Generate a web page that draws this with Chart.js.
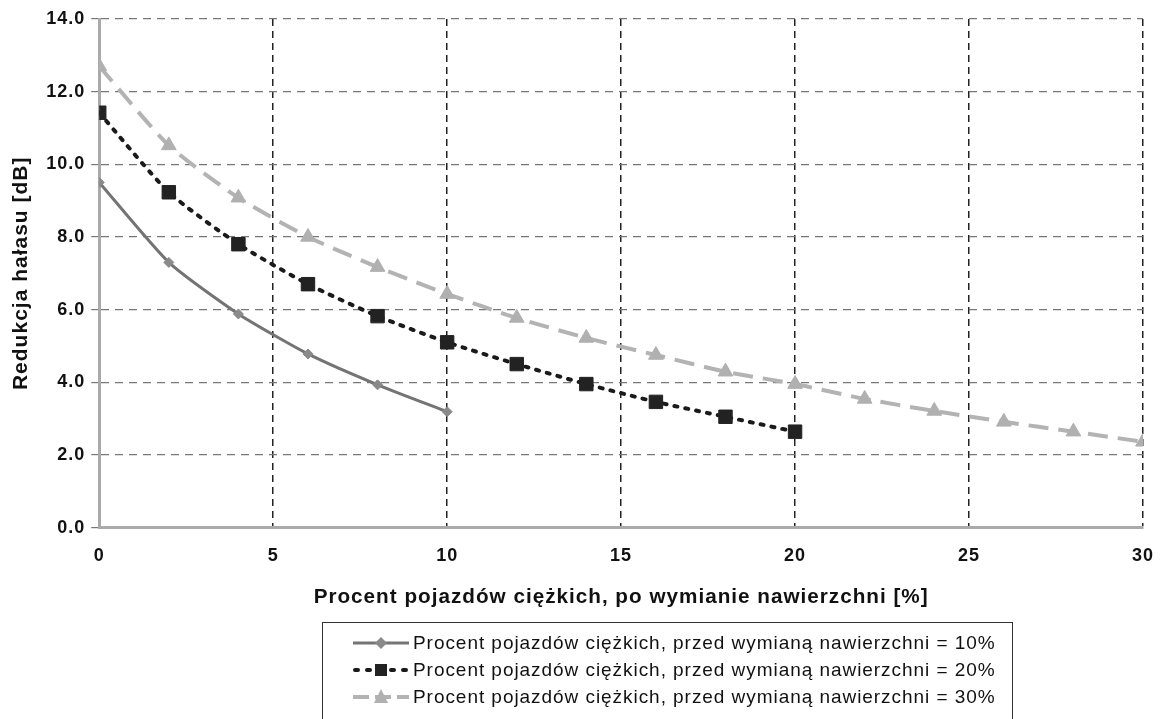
<!DOCTYPE html>
<html>
<head>
<meta charset="utf-8">
<script src="https://cdn.jsdelivr.net/npm/chart.js@4.4.0/dist/chart.umd.min.js"></script>
<style>
  html, body { margin: 0; padding: 0; background: #fff; }
  #wrap { position: relative; width: 1160px; height: 719px; }
  #legend {
    position: absolute; left: 322px; top: 622px; width: 691px; height: 110px;
    border: 1.5px solid #333; box-sizing: border-box;
    font-family: "Liberation Sans", Arial, sans-serif; font-size: 19px; color: #111;
    letter-spacing: 0.95px;
  }
  .row { position: absolute; left: 28px; height: 26px; display: flex; align-items: center; white-space: nowrap; }
  .row canvas { width: 60px; height: 20px; margin-right: 2px; }
</style>
</head>
<body>
<div id="wrap">
  <canvas id="noiseChart" width="1160" height="719"></canvas>
  <div id="legend"></div>
</div>
<script>
// procent pojazdów ciężkich po wymianie (oś X)
const xs10 = [0, 2, 4, 6, 8, 10];
const xs20 = [0, 2, 4, 6, 8, 10, 12, 14, 16, 18, 20];
const xs30 = [0, 2, 4, 6, 8, 10, 12, 14, 16, 18, 20, 22, 24, 26, 28, 30];

// redukcja hałasu [dB]
const red10 = [9.5, 7.3, 5.88, 4.78, 3.93, 3.19];
const red20 = [11.42, 9.23, 7.8, 6.7, 5.82, 5.1, 4.5, 3.95, 3.46, 3.05, 2.64];
const red30 = [12.7, 10.52, 9.08, 8.0, 7.17, 6.43, 5.77, 5.22, 4.75, 4.29, 3.95, 3.54, 3.21, 2.91, 2.64, 2.36];

const seriesLabels = [
    'Procent pojazdów ciężkich, przed wymianą nawierzchni = 10%',
    'Procent pojazdów ciężkich, przed wymianą nawierzchni = 20%',
    'Procent pojazdów ciężkich, przed wymianą nawierzchni = 30%'
];

const xTitle = 'Procent pojazdów ciężkich, po wymianie nawierzchni [%]';
const yTitle = 'Redukcja hałasu [dB]';

function pts(xs, ys) {
    return xs.map((x, i) => ({ x: x, y: ys[i] }));
}

const styles = [
    { color: '#747474', dash: [], width: 3, point: 'rectRot', radius: 5, pointColor: '#8a8a8a' },
    { color: '#1a1a1a', dash: [3, 8], width: 4, point: 'rect', radius: 9.5, pointColor: '#222' },
    { color: '#b3b3b3', dash: [20, 10], width: 4, point: 'triangle', radius: 8.5, pointColor: '#b0b0b0' }
];

const datasets = [pts(xs10, red10), pts(xs20, red20), pts(xs30, red30)].map((d, i) => ({
    label: seriesLabels[i],
    data: d,
    borderColor: styles[i].color,
    borderDash: styles[i].dash,
    borderWidth: styles[i].width,
    borderCapStyle: i === 1 ? 'round' : 'butt',
    pointStyle: styles[i].point,
    pointRadius: styles[i].radius,
    pointBackgroundColor: styles[i].pointColor,
    pointBorderColor: styles[i].pointColor,
    pointBorderWidth: 1,
    tension: 0.2,
    fill: false
}));

const FONT = 'Liberation Sans, Arial, sans-serif';
const tickFont = { family: FONT, size: 18, weight: 'bold' };

// szerszy tekst, jak w oryginale
const spacing = {
    id: 'spacing',
    afterInit(chart) { chart.ctx.letterSpacing = '1px'; },
    beforeUpdate(chart) { chart.ctx.letterSpacing = '1px'; },
    beforeDraw(chart) { chart.ctx.letterSpacing = '1px'; }
};

const ctx = document.getElementById('noiseChart').getContext('2d');
const chart = new Chart(ctx, {
    type: 'line',
    data: { datasets: datasets },
    plugins: [spacing],
    options: {
        responsive: false,
        animation: false,
        layout: { padding: { left: 5, right: 17, top: 19, bottom: 105 } },
        plugins: {
            legend: { display: false },
            tooltip: { enabled: false }
        },
        scales: {
            x: {
                type: 'linear',
                min: 0,
                max: 30,
                ticks: { stepSize: 5, color: '#111', font: tickFont, padding: 0 },
                grid: { color: '#222', lineWidth: 1.5, drawTicks: true, tickLength: 18, tickColor: 'rgba(0,0,0,0)' },
                border: { display: true, color: '#aaa', width: 3, dash: [7, 5] },
                title: {
                    display: true, text: xTitle, color: '#111',
                    font: { family: FONT, size: 20.7, weight: 'bold' },
                    padding: { top: 18, bottom: 4 }
                }
            },
            y: {
                min: 0,
                max: 14,
                ticks: {
                    stepSize: 2, color: '#111', font: tickFont, padding: 6,
                    callback: v => v.toFixed(1)
                },
                grid: { color: '#777', lineWidth: 1.2, drawTicks: true, tickLength: 8 },
                border: { display: true, color: '#aaa', width: 3, dash: [8, 6] },
                title: {
                    display: true, text: yTitle, color: '#111',
                    font: { family: FONT, size: 21, weight: 'bold' },
                    padding: { bottom: 6 }
                }
            }
        }
    }
});

// legenda w ramce pod wykresem
const legend = document.getElementById('legend');
seriesLabels.forEach((text, i) => {
    const row = document.createElement('div');
    row.className = 'row';
    row.style.top = (7 + i * 27) + 'px';
    const c = document.createElement('canvas');
    c.width = 60; c.height = 20;
    const g = c.getContext('2d');
    const s = styles[i];
    g.strokeStyle = s.color;
    g.lineWidth = s.width;
    g.lineCap = i === 1 ? 'round' : 'butt';
    g.setLineDash(i === 1 ? [3, 9] : (i === 2 ? [16, 6] : []));
    g.beginPath(); g.moveTo(i === 1 ? 4 : 2, 10); g.lineTo(58, 10); g.stroke();
    g.setLineDash([]);
    g.fillStyle = s.pointColor;
    g.beginPath();
    if (s.point === 'rectRot') { g.moveTo(30, 4); g.lineTo(36, 10); g.lineTo(30, 16); g.lineTo(24, 10); }
    else if (s.point === 'rect') { g.rect(24, 4, 12, 12); }
    else { g.moveTo(30, 2); g.lineTo(37, 16); g.lineTo(23, 16); }
    g.closePath(); g.fill();
    row.appendChild(c);
    const span = document.createElement('span');
    span.textContent = text;
    row.appendChild(span);
    legend.appendChild(row);
});
</script>
</body>
</html>
